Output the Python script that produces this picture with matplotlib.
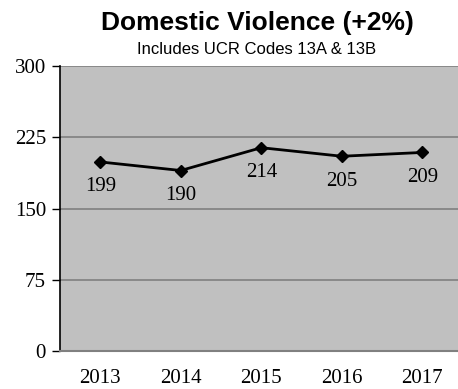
import matplotlib.pyplot as plt

years = ["2013", "2014", "2015", "2016", "2017"]
counts = [199, 190, 214, 205, 209]
yticks = [0, 75, 150, 225, 300]

fig = plt.figure(figsize=(4.58, 3.89), dpi=100)
ax = fig.add_axes([60 / 458, 1 - 351 / 389, 1 - 60 / 458 + 0.01, 285 / 389])

ax.set_facecolor("#C0C0C0")
x = list(range(len(years)))
ax.plot(x, counts, color="black", linewidth=2, marker="D", markersize=6, zorder=3)

# value labels under each point
for xi, v in zip(x, counts):
    ax.annotate(str(v), (xi, v), xytext=(0, -11), textcoords="offset points",
                ha="center", va="top", fontsize=15, family="Liberation Serif")

ax.set_xlim(-0.5, 4.5)
ax.set_ylim(0, 300)
ax.set_yticks(yticks)
ax.set_xticks(x)
ax.set_xticklabels(years)
for lab in ax.get_xticklabels() + ax.get_yticklabels():
    lab.set_family("Liberation Serif")
    lab.set_fontsize(15)
ax.tick_params(axis="x", length=0, pad=13)
ax.tick_params(axis="y", length=6, width=1, pad=4, direction="out")
ax.grid(axis="y", color="#808080", linewidth=1.2)
ax.set_axisbelow(True)

for side in ["top", "right"]:
    ax.spines[side].set_visible(False)
ax.spines["bottom"].set_color("#808080")
ax.spines["bottom"].set_linewidth(1.5)
ax.spines["left"].set_color("black")
ax.spines["left"].set_linewidth(1.2)

fig.text(257 / 458, 1 - 23 / 389, "Domestic Violence (+2%)", ha="center", va="center",
         fontsize=19, fontweight="bold", family="Liberation Sans")
fig.text(257 / 458, 1 - 49 / 389, "Includes UCR Codes 13A & 13B", ha="center", va="center",
         fontsize=12, family="Liberation Sans")

fig.savefig("out.png", dpi=100)
